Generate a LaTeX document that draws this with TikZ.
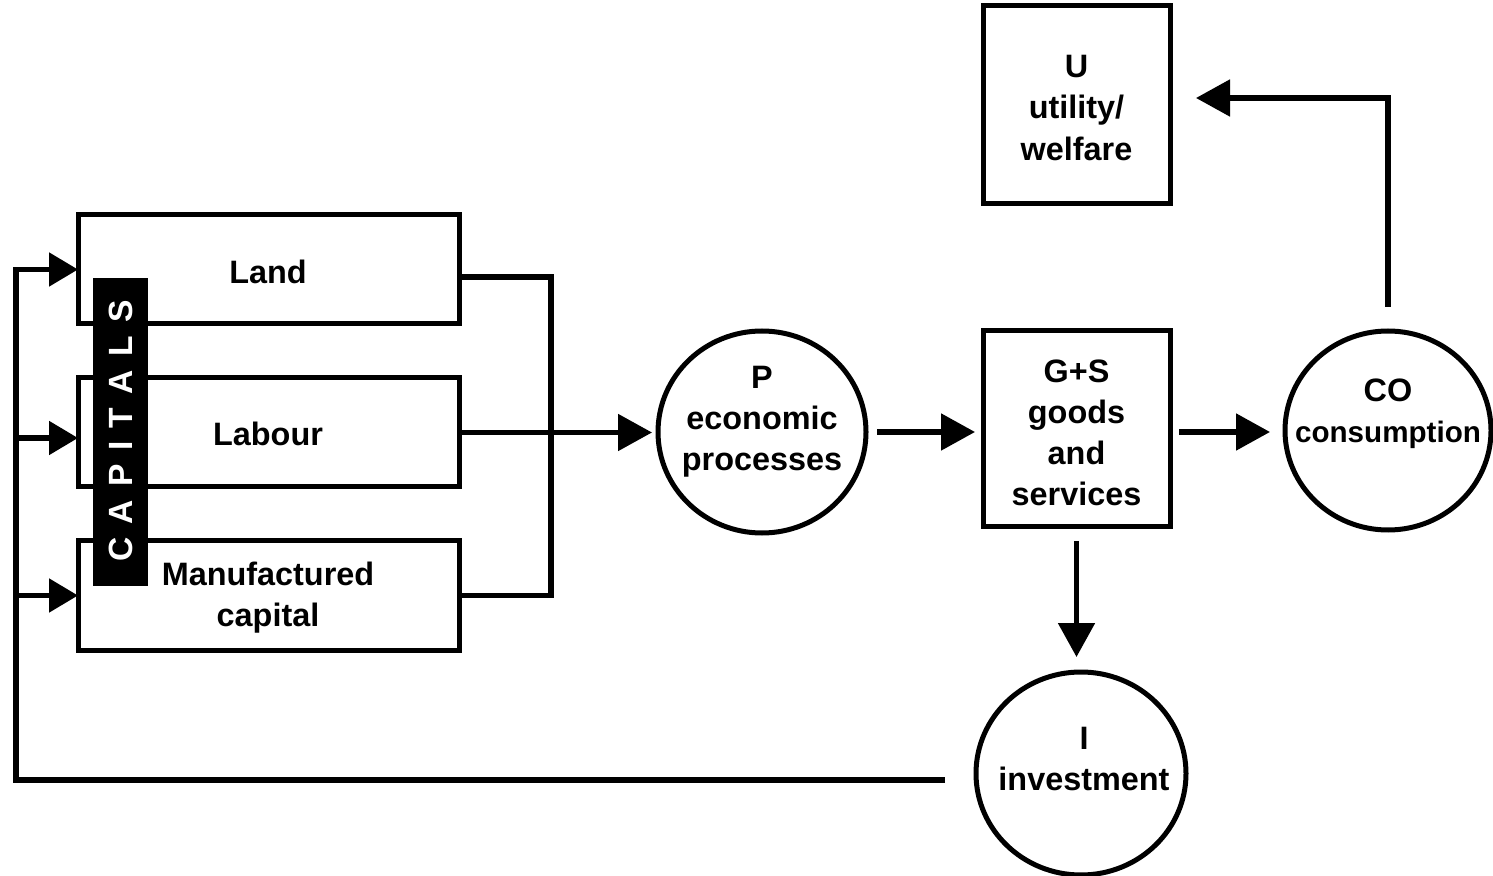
\documentclass[tikz,border=0pt]{standalone}
\usepackage{fontspec}
\setmainfont{Liberation Sans}
\usetikzlibrary{arrows.meta,shapes.geometric}
\begin{document}
\begin{tikzpicture}[x=0.5pt,y=-0.5pt,
  every node/.style={inner sep=0pt, outer sep=0pt},
  txt/.style={font=\bfseries\fontsize{16.2}{20.6}\selectfont, align=center},
  capbox/.style={draw, line width=2.5pt, rectangle, minimum width=190.5pt, minimum height=54.5pt},
  sbox/.style={draw, line width=2.5pt, rectangle, minimum width=93.5pt, minimum height=98pt},
  circ/.style={draw, line width=2.5pt, ellipse, minimum width=104pt, minimum height=101pt},
  wire/.style={line width=2.6pt},
  arr/.style={line width=2.6pt, -{Triangle[length=17pt,width=18pt]}},
  sarr/.style={line width=2.6pt, -{Triangle[length=14.5pt,width=16.5pt]}},
]
\useasboundingbox (0,0) rectangle (1493,876);

% capital boxes
\node[capbox] (Land) at (268.5,269.5) {};
\node[capbox] (Labour) at (268.5,432.5) {};
\node[capbox] (Manuf) at (268.5,595.5) {};
\node[txt] (LandT) at (268,271.5) {Land};
\node[txt] (LabourT) at (268,433.5) {Labour};
\node[txt] (ManufT) at (268,598) {Manufactured\\capital};

% CAPITALS bar
\node[fill=black, minimum width=27.5pt, minimum height=154pt] (CapBar) at (120.5,432) {};
\node[txt, text=white, rotate=90, font=\bfseries\fontsize{16.8}{20}\selectfont] (CapT) at (120.5,431)
  {C\kern6.7pt A\kern6.7pt P\kern6.7pt I\kern6.7pt T\kern6.7pt A\kern6.7pt L\kern6.7pt S};

% process nodes
\node[circ] (P) at (762,432) {};
\node[txt] (PT) at (762,422) {P\\economic\\processes};
\node[sbox] (GS) at (1076.5,429) {};
\node[txt] (GST) at (1076.5,433) {G+S\\goods\\and\\services};
\node[circ, minimum width=103pt, minimum height=99.5pt] (CO) at (1388,430.5) {};
\node[txt] (COT) at (1388,414) {CO\\{\fontsize{14.8}{20.6}\selectfont consumption}};
\node[sbox, minimum height=99pt] (U) at (1076.5,105) {};
\node[txt] (UT) at (1076.5,108) {U\\utility/\\welfare};
\node[circ, minimum width=105pt, minimum height=101.5pt] (I) at (1081,773.5) {};
\node[txt] (IT) at (1084,759) {I\\investment};

% helper coordinates
\coordinate (Jx) at (551,0);
\coordinate (Rail) at (16,0);
\coordinate (Itop) at ([yshift=7.5pt]I.north);
\coordinate (COtop) at ([yshift=12pt]CO.north);
\coordinate (Uin) at ([xshift=13pt,yshift=3.5pt]U.east);
\coordinate (Iend) at ([xshift=-15.5pt,yshift=-3.25pt]I.west);
\coordinate (LandOut) at ([yshift=-3.75pt]Land.east);
\coordinate (LabIn) at ([yshift=-2.75pt]Labour.west);
\coordinate (Pin) at ([xshift=-3pt]P.west);
\coordinate (Pout) at ([xshift=5.5pt]P.east);
\coordinate (GSin) at ([xshift=-4pt]GS.west);
\coordinate (GSout) at ([xshift=4.5pt]GS.east);
\coordinate (COin) at ([xshift=-7.5pt]CO.west);

% connectors
\draw[wire] (LandOut) -| (Jx |- Manuf.east) -- (Manuf.east);
\draw[arr] (Labour.east) -- (Pin |- Labour.east);
\draw[arr] (Pout) -- (GSin |- Pout);
\draw[arr] (GSout |- Pout) -- (COin |- Pout);
\draw[arr] ([yshift=-7pt]GS.south) -- (GS.south |- Itop);
\draw[arr] (COtop) |- (Uin);
\draw[sarr] (Iend) -| (Rail |- Land.west) -- (Land.west);
\draw[sarr] (Rail |- LabIn) -- (LabIn);
\draw[sarr] (Rail |- Manuf.west) -- (Manuf.west);
\end{tikzpicture}
\end{document}
